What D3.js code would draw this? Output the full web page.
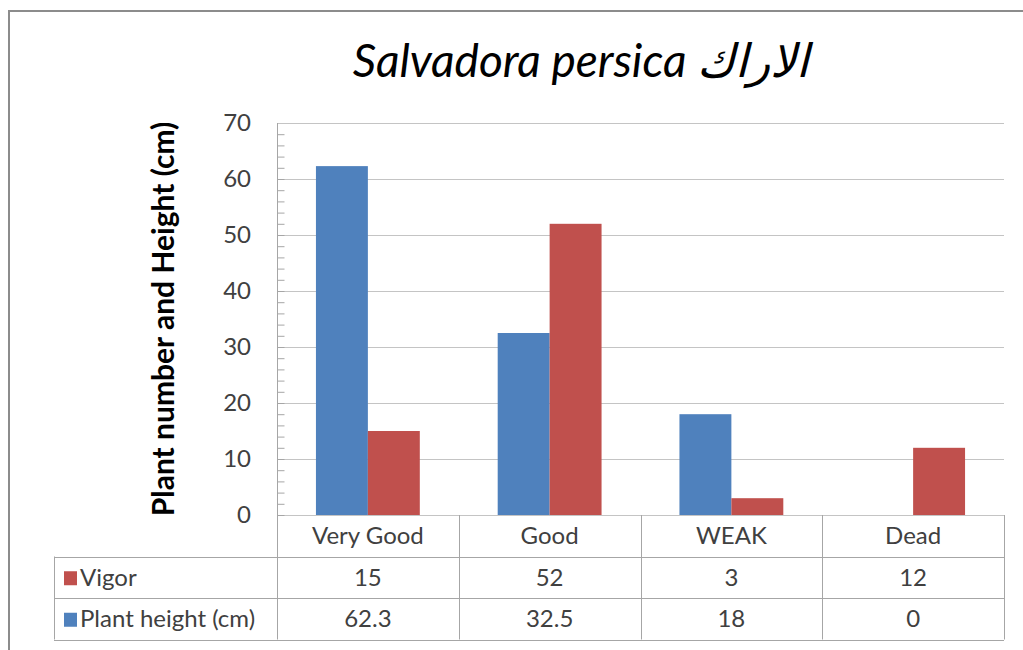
<!DOCTYPE html>
<html>
<head>
<meta charset="utf-8">
<script src="https://cdn.jsdelivr.net/npm/d3@7"></script>
<style>
    body { margin: 0; background: #fff; }
    svg text { font-family: Lato, "Open Sans", sans-serif; }
</style>
</head>
<body>
<div id="chart"></div>
<script>
// chart data
const categories = ["Very Good", "Good", "WEAK", "Dead"];
const heightValues = [62.3, 32.5, 18, 0];
const vigorValues = [15, 52, 3, 12];
const yTicks = [0, 10, 20, 30, 40, 50, 60, 70];

const series = [
    {key: "height", label: "Plant height (cm)", color: "#4F81BD", values: heightValues},
    {key: "vigor", label: "Vigor", color: "#C0504D", values: vigorValues}
];
// table rows are listed vigor first
const tableRows = [series[1], series[0]];

const width = 1023, height = 650;
const margin = {top: 123, right: 19, bottom: 135, left: 277};

const svg = d3.select("#chart").append("svg")
    .attr("width", width)
    .attr("height", height);

// outer frame
svg.append("path")
    .attr("d", `M9,${height} V11 H${width}`)
    .attr("fill", "none")
    .attr("stroke", "#8c8c8c")
    .attr("stroke-width", 2);

const x = d3.scaleBand()
    .domain(categories)
    .range([margin.left, width - margin.right]);

const xSub = d3.scaleBand()
    .domain(series.map(s => s.key))
    .range([0, x.bandwidth()])
    .paddingOuter(0.75);

const y = d3.scaleLinear()
    .domain([0, 70])
    .range([height - margin.bottom, margin.top]);

// gridlines
svg.append("g")
    .selectAll("line")
    .data(yTicks)
    .join("line")
    .attr("x1", margin.left)
    .attr("x2", width - margin.right)
    .attr("y1", d => Math.round(y(d)) + 0.5)
    .attr("y2", d => Math.round(y(d)) + 0.5)
    .attr("stroke", "#c4c4c4");

// y axis with minor ticks inside
const yAxis = d3.axisRight(y)
    .tickValues(d3.range(0, 70, 2))
    .tickSize(7)
    .tickFormat("");

svg.append("g")
    .attr("transform", `translate(${margin.left + 0.5},0)`)
    .call(yAxis)
    .call(g => g.select(".domain").remove())
    .call(g => g.selectAll("line").attr("stroke", "#a6a6a6"));

// tick labels
svg.append("g")
    .selectAll("text")
    .data(yTicks)
    .join("text")
    .attr("x", 251)
    .attr("y", d => y(d))
    .attr("dy", "0.35em")
    .attr("text-anchor", "end")
    .attr("font-size", 24)
    .attr("fill", "#404040")
    .text(d => d);

// bars
const groups = svg.append("g")
    .selectAll("g")
    .data(categories)
    .join("g")
    .attr("transform", d => `translate(${x(d)},0)`);

groups.selectAll("rect")
    .data((c, i) => series.map(s => ({key: s.key, color: s.color, value: s.values[i]})))
    .join("rect")
    .attr("x", d => xSub(d.key))
    .attr("width", xSub.bandwidth())
    .attr("y", d => y(d.value))
    .attr("height", d => y(0) - y(d.value))
    .attr("fill", d => d.color);

// data table
const rowH = 41.5;
const tableTop = y(0);
const tableLeft = 54;
const tableRight = width - margin.right;
const gridColor = "#a6a6a6";
const table = svg.append("g");

// horizontal lines
[1, 2, 3].forEach(r => {
    table.append("line")
        .attr("x1", tableLeft)
        .attr("x2", tableRight)
        .attr("y1", Math.round(tableTop + r * rowH) + 0.5)
        .attr("y2", Math.round(tableTop + r * rowH) + 0.5)
        .attr("stroke", gridColor);
});

// vertical lines
const colEdges = categories.map(c => x(c)).concat([x.range()[1]]);
colEdges.forEach(cx => {
    table.append("line")
        .attr("x1", Math.round(cx) + 0.5)
        .attr("x2", Math.round(cx) + 0.5)
        .attr("y1", cx === colEdges[0] ? margin.top : tableTop)
        .attr("y2", tableTop + 3 * rowH)
        .attr("stroke", gridColor);
});
table.append("line")
    .attr("x1", tableLeft + 0.5)
    .attr("x2", tableLeft + 0.5)
    .attr("y1", tableTop + rowH)
    .attr("y2", tableTop + 3 * rowH)
    .attr("stroke", gridColor);

// category header row
table.selectAll(".cat")
    .data(categories)
    .join("text")
    .attr("class", "cat")
    .attr("x", d => x(d) + x.bandwidth() / 2)
    .attr("y", tableTop + rowH / 2)
    .attr("dy", "0.35em")
    .attr("text-anchor", "middle")
    .attr("font-size", 24)
    .attr("fill", "#404040")
    .text(d => d);

// series rows
tableRows.forEach((s, r) => {
    const cy = tableTop + (r + 1.5) * rowH;
    table.append("rect")
        .attr("x", 64)
        .attr("y", cy - 6)
        .attr("width", 13)
        .attr("height", 14)
        .attr("fill", s.color);
    table.append("text")
        .attr("x", 80)
        .attr("y", cy)
        .attr("dy", "0.35em")
        .attr("font-size", 24)
        .attr("fill", "#404040")
        .text(s.label);
    table.selectAll(".v" + s.key)
        .data(s.values)
        .join("text")
        .attr("x", (d, i) => x(categories[i]) + x.bandwidth() / 2)
        .attr("y", cy)
        .attr("dy", "0.35em")
        .attr("text-anchor", "middle")
        .attr("font-size", 24)
        .attr("fill", "#404040")
        .text(d => d);
});

// y axis title
svg.append("text")
    .attr("transform", `translate(174,${(margin.top + y(0)) / 2}) rotate(-90)`)
    .attr("text-anchor", "middle")
    .attr("font-size", 30)
    .attr("font-weight", "bold")
    .attr("fill", "#000")
    .text("Plant number and Height (cm)");

// title
svg.append("text")
    .attr("x", 581)
    .attr("y", 77)
    .attr("text-anchor", "middle")
    .attr("font-size", 46)
    .attr("font-style", "italic")
    .attr("fill", "#000")
    .text("Salvadora persica الاراك");
</script>
</body>
</html>
